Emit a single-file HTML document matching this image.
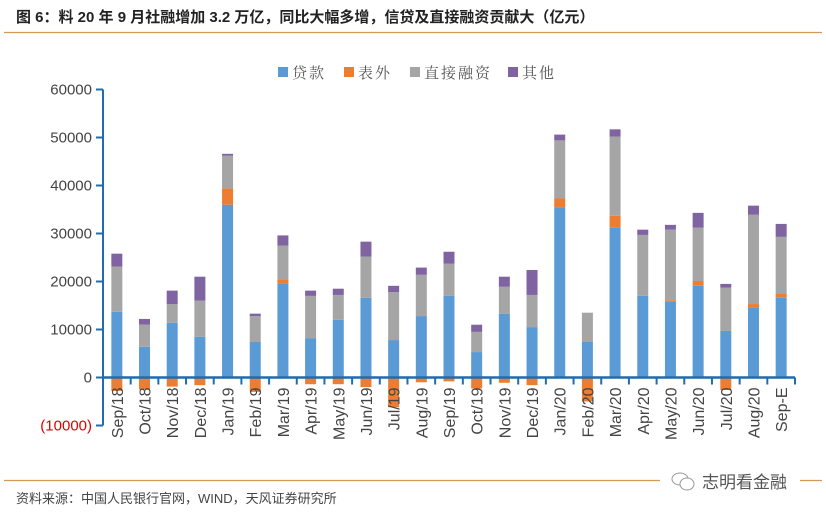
<!DOCTYPE html>
<html><head><meta charset="utf-8"><style>
body{margin:0;background:#fff;width:826px;height:516px;overflow:hidden;font-family:"Liberation Sans","Noto Sans CJK SC",sans-serif}
</style></head><body>
<svg id="c" width="826" height="516" xmlns="http://www.w3.org/2000/svg">
<text x="16" y="22" font-size="15" font-weight="bold" fill="#222" font-family="Liberation Sans, Noto Sans CJK SC, sans-serif">图 6：料 20 年 9 月社融增加 3.2 万亿，同比大幅多增，信贷及直接融资贡献大（亿元）</text>
<line x1="4" y1="32.5" x2="822" y2="32.5" stroke="#d29a55" stroke-width="1.2"/>
<line x1="4" y1="480.5" x2="822" y2="480.5" stroke="#d29a55" stroke-width="1.2"/>
<text x="16" y="503" font-size="13" fill="#444" font-family="Liberation Sans, Noto Sans CJK SC, sans-serif">资料来源：中国人民银行官网，WIND，天风证券研究所</text>
<g><rect x="660" y="470" width="140" height="22" fill="#fff"/>
<ellipse cx="680" cy="479" rx="8" ry="6" fill="none" stroke="#999"/><ellipse cx="687" cy="484" rx="7" ry="6" fill="#fff" stroke="#999"/>
<text x="702" y="488" font-size="17" fill="#555" font-family="Noto Sans CJK SC, sans-serif">志明看金融</text></g>
<g id="legend"></g>
<g id="plot"></g>
</svg>
<script>
const categories=["Sep/18","Oct/18","Nov/18","Dec/18","Jan/19","Feb/19","Mar/19","Apr/19","May/19","Jun/19","Jul/19","Aug/19","Sep/19","Oct/19","Nov/19","Dec/19","Jan/20","Feb/20","Mar/20","Apr/20","May/20","Jun/20","Jul/20","Aug/20","Sep-E"];
const loans=[13700,6400,11400,8500,36000,7400,19500,8200,12000,16600,7800,12800,17000,5300,13300,10500,35400,7400,31300,17000,15800,19100,9700,14500,16600];
const offBalance=[-2800,-2500,-1900,-1600,3400,-3000,900,-1400,-1400,-2000,-6200,-1000,-800,-2300,-1100,-1600,1900,-5000,2400,0,300,1000,-2600,800,800];
const directFinancing=[9400,4600,3900,7500,6800,5400,7100,8800,5200,8600,10000,8600,6700,4200,5600,6700,12100,6100,16500,12700,14700,11100,9000,18600,11900];
const others=[2700,1200,2800,5000,400,500,2100,1100,1300,3100,1300,1500,2500,1500,2100,5200,1200,0,1500,1100,1000,3100,800,1900,2700];
const yTicks=[-10000,0,10000,20000,30000,40000,50000,60000];
const yTickLabels=["(10000)","0","10000","20000","30000","40000","50000","60000"];
const seriesNames=["贷款","表外","直接融资","其他"];
const colors=["#5b9bd5","#ed7d31","#a5a5a5","#8064a2"];
const NS="http://www.w3.org/2000/svg";
const plot=document.getElementById('plot'),legend=document.getElementById('legend');
const X0=103,X1=795,Y0=377.5,PPU=48/10000;
const y=v=>Y0-v*PPU;
const step=(X1-X0)/categories.length;
const xc=i=>X0+step*(i+0.5);
function mk(tag,attrs,parent){const e=document.createElementNS(NS,tag);for(const k in attrs)e.setAttribute(k,attrs[k]);parent.appendChild(e);return e;}
const series=[loans,offBalance,directFinancing,others];
const keys=["loans","off-balance","direct-financing","others"];
const bw=11;
categories.forEach((c,i)=>{
  let pos=0,neg=0;
  series.forEach((s,k)=>{
    const v=s[i]; if(!v)return;
    let top,bot;
    if(v>=0){bot=y(pos);top=y(pos+v);pos+=v;}else{top=y(neg);bot=y(neg+v);neg+=v;}
    const r=mk('rect',{x:xc(i)-bw/2,y:top,width:bw,height:bot-top,fill:colors[k]},plot);
    
    
  });
});
const ya=mk('line',{x1:X0,y1:y(60000),x2:X0,y2:y(-10000),stroke:"#1f6cae","stroke-width":2},plot);


yTicks.forEach((t,j)=>{
  mk('line',{x1:X0-7,y1:y(t),x2:X0,y2:y(t),stroke:"#1f6cae","stroke-width":2},plot);
  const tx=mk('text',{x:X0-11,y:y(t)+5,"text-anchor":"end","font-size":15,fill:t<0?"#e00000":"#444"},plot);
  tx.textContent=yTickLabels[j];
  
  
});
const xa=mk('line',{x1:X0,y1:Y0,x2:X1,y2:Y0,stroke:"#1f6cae","stroke-width":2.5},plot);


categories.forEach((c,i)=>{
  mk('line',{x1:X0+step*(i+1),y1:Y0,x2:X0+step*(i+1),y2:Y0+7,stroke:"#1f6cae","stroke-width":2},plot);
  const tx=mk('text',{x:0,y:0,"text-anchor":"end","font-size":16,fill:"#444",transform:`translate(${xc(i)+6},${Y0+10}) rotate(-90)`},plot);
  tx.textContent=c;
  
  
});
const lx=[278,344,410,508];
seriesNames.forEach((n,k)=>{
  mk('rect',{x:lx[k],y:67,width:10,height:10,fill:colors[k]},legend);
  const t=mk('text',{x:lx[k]+14,y:78,"font-size":15,fill:"#555","font-family":"Noto Serif CJK SC, serif","letter-spacing":"2"},legend);
  t.textContent=n;
  
  
});
</script>
</body></html>
